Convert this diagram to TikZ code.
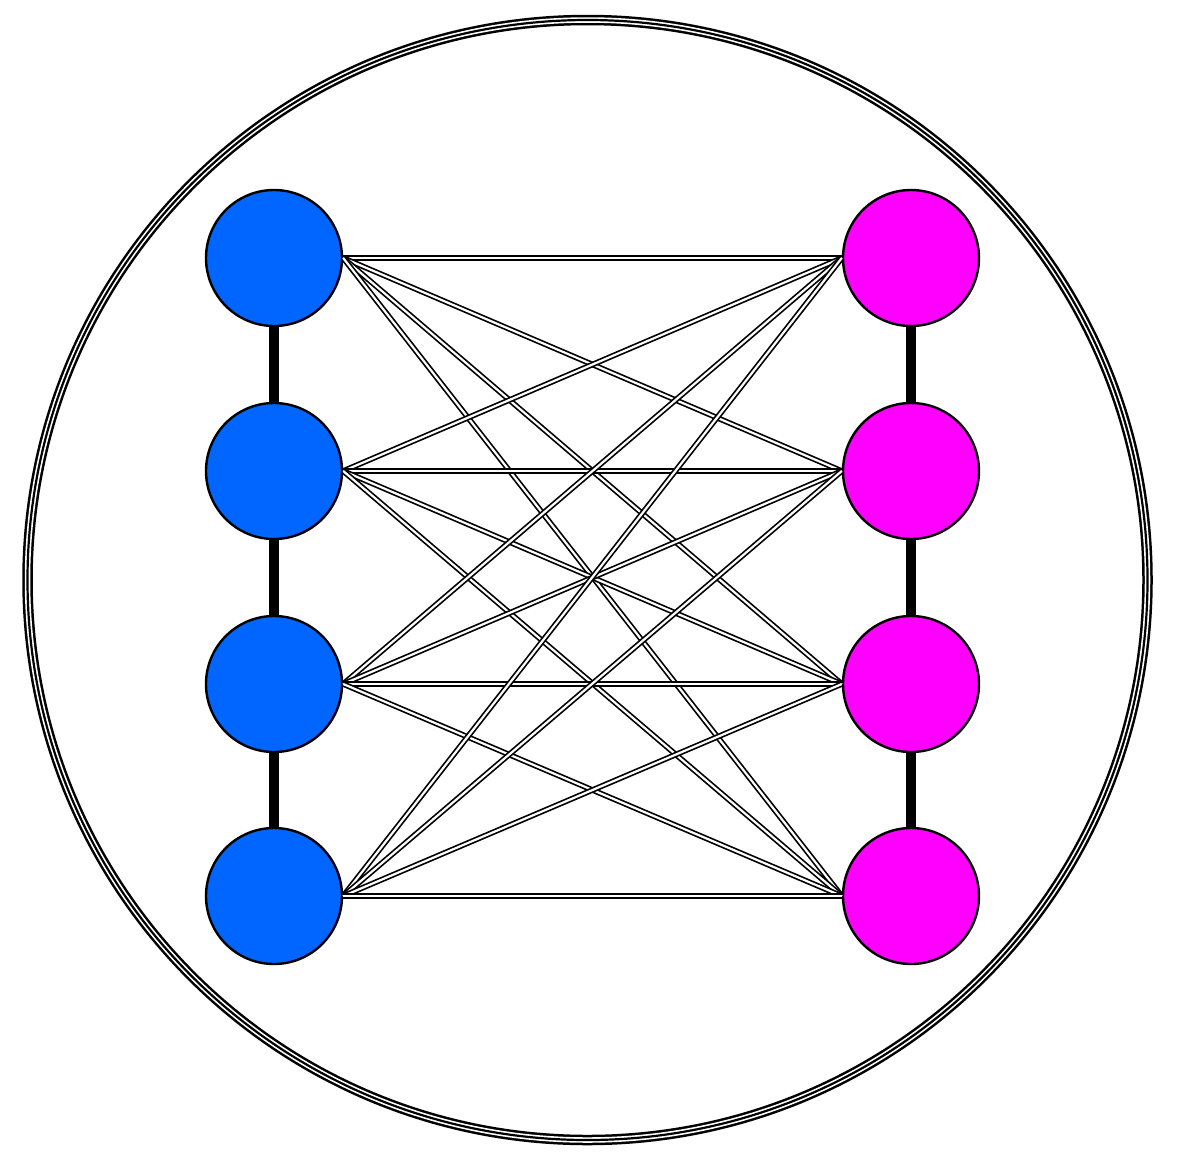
\documentclass[tikz,border=0pt]{standalone}
\usetikzlibrary{backgrounds}
\definecolor{lblue}{HTML}{0066FF}
\definecolor{lmag}{HTML}{FF00FF}
\begin{document}
\begin{tikzpicture}[x=1pt,y=-1pt,
  vert/.style={circle,draw=black,line width=2.4pt,minimum size=136pt,inner sep=0pt},
  bar/.style={line width=10pt,black},
  link/.style={double=white,double distance=2.2pt,line width=1.7pt,black}]
\useasboundingbox (0,0) rectangle (1182,1160);
% outer triple circle
\draw[line width=10.5pt] (587.5,580) circle (560);
\draw[line width=5.5pt,white] (587.5,580) circle (560);
\draw[line width=2.2pt] (587.5,580) circle (560);
\foreach \i/\y in {1/258,2/471,3/684,4/896}{
  \node[vert,fill=lblue] (L\i) at (274,\y) {};
  \node[vert,fill=lmag] (R\i) at (911,\y) {};
}
\begin{scope}[on background layer]
  \draw[bar] (L1) -- (L2) -- (L3) -- (L4);
  \draw[bar] (R1) -- (R2) -- (R3) -- (R4);
\end{scope}
\foreach \i in {1,...,4}{
  \foreach \j in {1,...,4}{
    \draw[link] (L\i.east) -- (R\j.west);
  }
}
\end{tikzpicture}
\end{document}
